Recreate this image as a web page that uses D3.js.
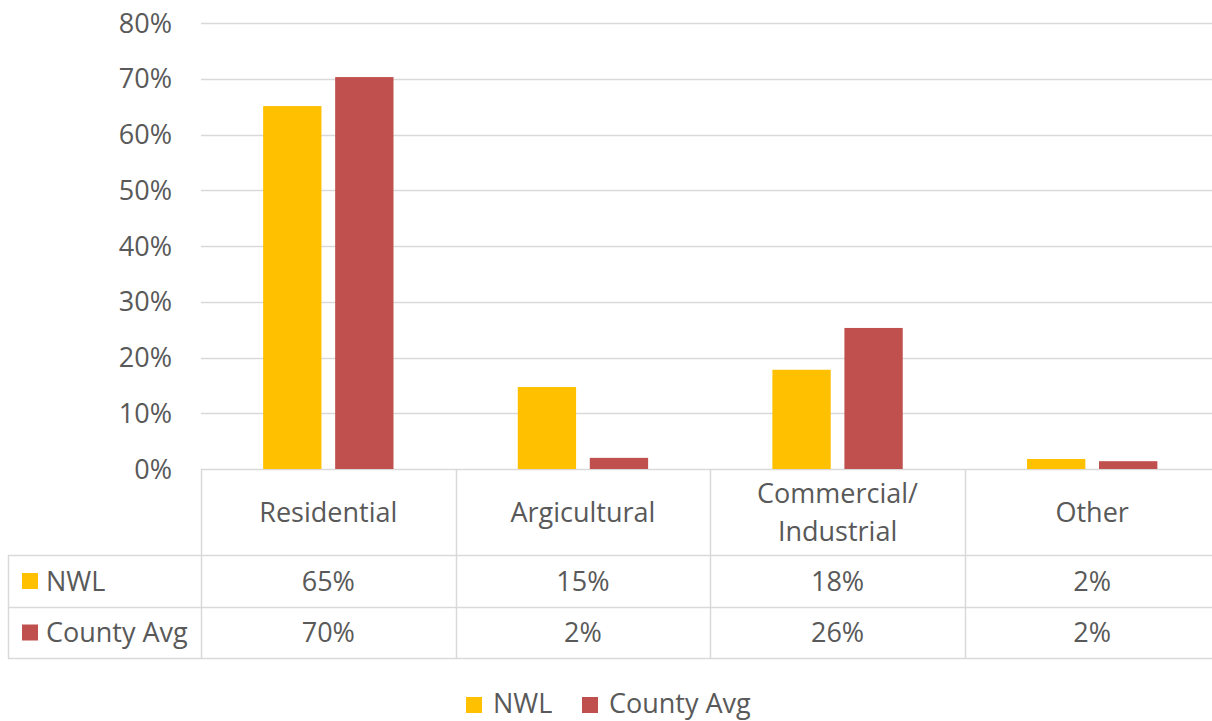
<!DOCTYPE html>
<html>
<head>
<meta charset="utf-8">
<script src="https://cdn.jsdelivr.net/npm/d3@7"></script>
<style>
  body { margin: 0; background: #fff; }
  text { font-family: "Open Sans", sans-serif; fill: #595959; }
</style>
</head>
<body>
<svg id="chart"></svg>
<script>
const categories = [["Residential"], ["Argicultural"], ["Commercial/", "Industrial"], ["Other"]];
const seriesNames = ["NWL", "County Avg"];
const seriesColors = ["#ffc000", "#c0504d"];
const nwl = [0.651, 0.147, 0.178, 0.018];
const countyAvg = [0.703, 0.020, 0.253, 0.014];
const nwlLabels = ["65%", "15%", "18%", "2%"];
const countyLabels = ["70%", "2%", "26%", "2%"];
const yTicks = [0, 0.1, 0.2, 0.3, 0.4, 0.5, 0.6, 0.7, 0.8];

const width = 1212, height = 721;
const plotLeft = 201, plotRight = 1219.5;
const y0 = 469, yTop = 23;
const headerBottom = 555, row1Bottom = 607, row2Bottom = 658;
const tableLeft = 8;
const gridColor = "#d9d9d9";

const svg = d3.select("#chart")
    .attr("width", width)
    .attr("height", height);

const keys = categories.map(c => c.join(" "));

const x = d3.scaleBand()
    .domain(keys)
    .range([plotLeft, plotRight])
    .padding(0);

const xs = d3.scaleBand()
    .domain(seriesNames)
    .range([x.bandwidth() * 0.244, x.bandwidth() * 0.756])
    .paddingInner(0.19);

const y = d3.scaleLinear()
    .domain([0, 0.8])
    .range([y0, yTop]);

// gridlines
svg.append("g")
  .selectAll("line")
  .data(yTicks)
  .enter().append("line")
    .attr("x1", plotLeft)
    .attr("x2", width)
    .attr("y1", d => Math.round(y(d)) + 0.5)
    .attr("y2", d => Math.round(y(d)) + 0.5)
    .attr("stroke", gridColor)
    .attr("stroke-width", 1.5);

// y tick labels
svg.append("g")
  .selectAll("text")
  .data(yTicks)
  .enter().append("text")
    .attr("x", 172)
    .attr("y", d => y(d))
    .attr("dy", "0.36em")
    .attr("text-anchor", "end")
    .style("font-size", "27px")
    .text(d => d3.format(".0%")(d));

// bars
const seriesData = [nwl, countyAvg];
const barGroup = svg.append("g");
seriesNames.forEach((s, si) => {
  barGroup.selectAll(".bar-" + si)
    .data(seriesData[si])
    .enter().append("rect")
      .attr("x", (d, i) => x(keys[i]) + xs(s))
      .attr("width", xs.bandwidth())
      .attr("y", d => y(d))
      .attr("height", d => y0 - y(d))
      .attr("fill", seriesColors[si]);
});

// data table lines
const table = svg.append("g")
    .attr("stroke", gridColor)
    .attr("stroke-width", 1.5);

[headerBottom, row1Bottom, row2Bottom].forEach(yy => {
  table.append("line")
    .attr("x1", tableLeft).attr("x2", width)
    .attr("y1", yy + 0.5).attr("y2", yy + 0.5);
});

table.append("line")
  .attr("x1", tableLeft + 0.5).attr("x2", tableLeft + 0.5)
  .attr("y1", headerBottom).attr("y2", row2Bottom + 1);

const borders = keys.map(k => x(k)).concat([plotRight]);
borders.forEach(bx => {
  table.append("line")
    .attr("x1", Math.round(bx) + 0.5).attr("x2", Math.round(bx) + 0.5)
    .attr("y1", y0).attr("y2", row2Bottom + 1);
});

// header labels
const header = svg.append("g");
categories.forEach((lines, i) => {
  const cx = x(keys[i]) + x.bandwidth() / 2;
  const cy = (y0 + headerBottom) / 2;
  const lh = 38;
  lines.forEach((ln, j) => {
    header.append("text")
      .attr("x", cx)
      .attr("y", cy + (j - (lines.length - 1) / 2) * lh)
      .attr("dy", "0.36em")
      .attr("text-anchor", "middle")
      .style("font-size", "27px")
      .text(ln);
  });
});

// value rows
const rowLabels = [nwlLabels, countyLabels];
const rowCenters = [(headerBottom + row1Bottom) / 2, (row1Bottom + row2Bottom) / 2];
rowLabels.forEach((labels, ri) => {
  svg.append("g")
    .selectAll("text")
    .data(labels)
    .enter().append("text")
      .attr("x", (d, i) => x(keys[i]) + x.bandwidth() / 2)
      .attr("y", rowCenters[ri])
      .attr("dy", "0.36em")
      .attr("text-anchor", "middle")
      .style("font-size", "27px")
      .text(d => d);

  svg.append("rect")
    .attr("x", 22)
    .attr("y", rowCenters[ri] - 8)
    .attr("width", 16)
    .attr("height", 16)
    .attr("fill", seriesColors[ri]);

  svg.append("text")
    .attr("x", 46)
    .attr("y", rowCenters[ri])
    .attr("dy", "0.36em")
    .style("font-size", "27px")
    .text(seriesNames[ri]);
});

// legend
const legendX = [466, 582];
const legend = svg.append("g");
seriesNames.forEach((s, i) => {
  legend.append("rect")
    .attr("x", legendX[i])
    .attr("y", 697)
    .attr("width", 16)
    .attr("height", 16)
    .attr("fill", seriesColors[i]);
  legend.append("text")
    .attr("x", legendX[i] + 27)
    .attr("y", 703)
    .attr("dy", "0.36em")
    .style("font-size", "27px")
    .text(s);
});
</script>
</body>
</html>
